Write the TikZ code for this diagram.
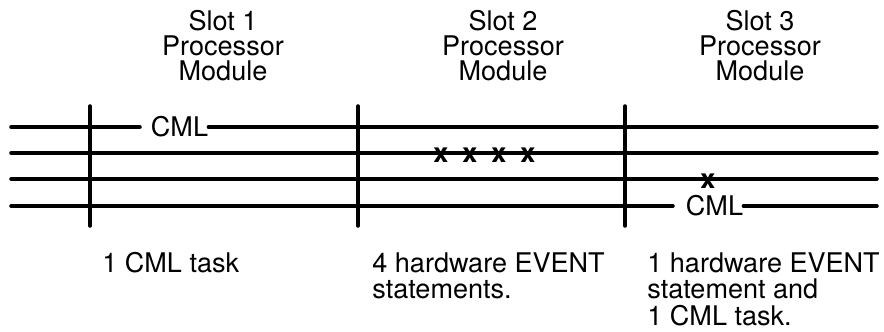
\documentclass[tikz,border=0pt]{standalone}
\usepackage{fontspec}
\setmainfont{TeX Gyre Heros}
\usepackage{tikz}
\usetikzlibrary{positioning}

\begin{document}
\begin{tikzpicture}[
    x=0.02cm, y=-0.02cm,
    bus/.style={line width=2pt, line cap=round},
    label/.style={inner sep=0pt, font=\fontsize{15.4pt}{14.2pt}\selectfont},
    slottitle/.style={label, align=center, anchor=north},
    note/.style={label, align=left, anchor=north west, font=\fontsize{15.4pt}{15.3pt}\selectfont},
    hit/.style={label, anchor=base}
]
\useasboundingbox (0,0) rectangle (884,331);

% slot headings
\node[slottitle] (slotA) at (223,10) {Slot 1\\Processor\\Module};
\node[slottitle] (slotB) at (503,10) {Slot 2\\Processor\\Module};
\node[slottitle] (slotC) at (760,10) {Slot 3\\Processor\\Module};

% bus line ends
\foreach \y [count=\i] in {127,153,179,206} {
    \coordinate (bl\i) at (11,\y);
    \coordinate (br\i) at (877,\y);
}

\node[hit] (cmlA) at (179.5,136.5) {CML};
\node[hit] (cmlB) at (714.5,215.5) {CML};

\draw[bus] (bl1) -- (140,127);
\draw[bus] (cmlA.east |- bl1) -- (br1);
\draw[bus] (bl2) -- (br2);
\draw[bus] (bl3) -- (br3);
\draw[bus] (bl4) -- (673,206);
\draw[bus] (cmlB.east |- bl4) -- (br4);

% slot boundaries
\foreach \x in {90,358,625}
    \draw[bus] (\x,106) -- (\x,226);

% hardware events
\foreach \x [count=\i] in {441,470,499,528}
    \node[hit, font=\fontsize{15.4pt}{14.2pt}\selectfont\bfseries] (evB\i) at (\x,162) {x};
\node[hit, font=\fontsize{15.4pt}{14.2pt}\selectfont\bfseries] (evC) at (708,188) {x};

% notes
\node[note] (noteA) at (102,252) {1 CML task};
\node[note] (noteB) at (372,252) {4 hardware EVENT\\statements.};
\node[note] (noteC) at (647,252) {1 hardware EVENT\\statement and\\1 CML task.};
\end{tikzpicture}
\end{document}
